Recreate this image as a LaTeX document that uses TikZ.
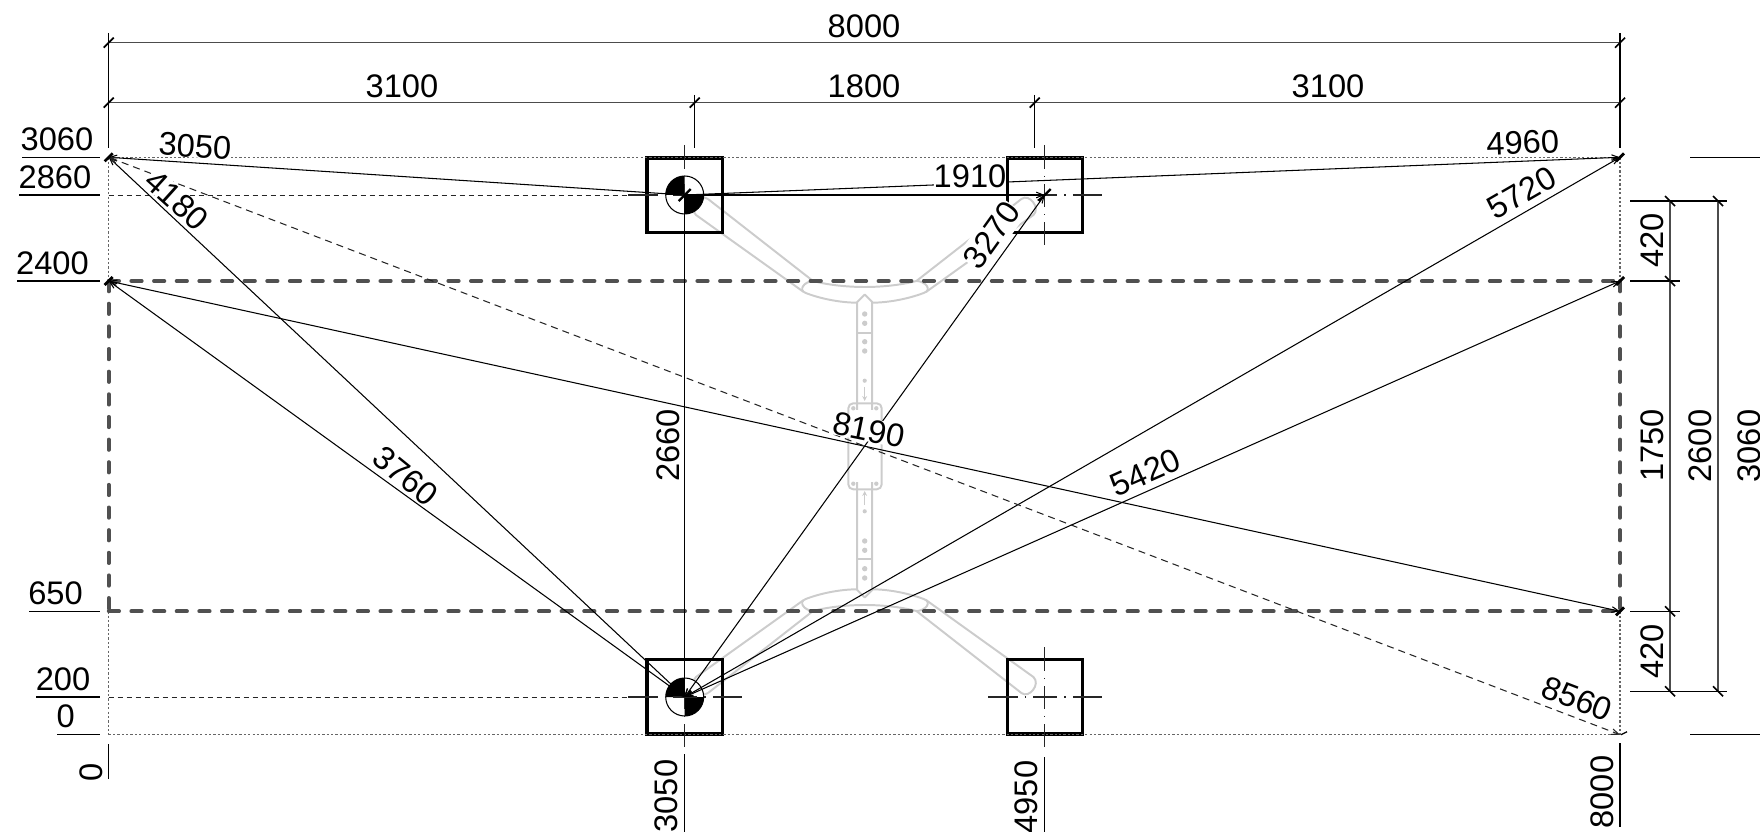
\documentclass[tikz,border=0pt]{standalone}
\usepackage{fontspec}
\setmainfont{Liberation Sans}
\usetikzlibrary{arrows.meta}
\definecolor{struct}{HTML}{CCCCCC}
\definecolor{heavy}{HTML}{505050}
\definecolor{dotg}{HTML}{666666}
\tikzset{
  every node/.style={font=\fontsize{23.2}{26}\selectfont,inner sep=0pt,text=black},
  lab/.style={fill=white},
  thinline/.style={draw=black,line width=0.75pt},
  conn/.style={thinline,{Straight Barb[length=5pt,width=4pt]}-{Straight Barb[length=5pt,width=4pt]}},
  connto/.style={thinline,-{Straight Barb[length=5pt,width=4pt]}},
  dimline/.style={draw=black!70,line width=0.85pt},
  extline/.style={draw=black,line width=0.75pt},
  tickmark/.style={draw=black,line width=1.2pt},
  blobmark/.style={draw=black,line width=2pt},
  structline/.style={draw=struct,line width=1.4pt},
  column/.style={draw=black,line width=2.4pt,line join=miter},
  dotline/.style={draw=dotg,line width=1pt,dash pattern=on 1.6pt off 1.5pt},
  heavydash/.style={draw=heavy,line width=2.7pt,line cap=round,dash pattern=on 7.4pt off 8.7pt},
  finedash/.style={draw=black!85,line width=0.7pt,dash pattern=on 4pt off 2.4pt},
  centreh/.style={draw=black!85,line width=0.75pt,dash pattern=on 21.3pt off 5pt on 1pt off 5pt on 17pt off 5pt on 1pt off 5pt on 21.3pt},
  centrev/.style={draw=black!85,line width=0.75pt,dash pattern=on 17pt off 5pt on 1pt off 5pt on 16pt off 5pt on 1pt off 5pt on 17pt},
}
\newcommand{\halfstruct}{%
  \draw[structline,line join=round] (708,199) -- (813,281) .. controls (830,285.5) and (850,287) .. (864.7,287)
    .. controls (880,287) and (899,285.5) .. (916.4,281) -- (1021.4,199)
    .. controls (1029,193) and (1041,208) .. (1033.4,215) -- (926,292);
  \draw[structline] (916.4,281) .. controls (925,281) and (933,290) .. (923.7,293)
    .. controls (905,300) and (885,302.7) .. (872.2,302.7);
  \draw[structline] (857.2,302.7) .. controls (844,302.7) and (824,300) .. (805.7,293)
    .. controls (797.7,290) and (804.4,281.5) .. (813,281);
  \draw[structline] (803.3,291.7) -- (696,215) .. controls (688,208) and (700,193) .. (708,199);
  \draw[structline,line join=round] (857.2,410) -- (857.2,302) -- (864.7,294.5) -- (872.2,302) -- (872.2,410);
  \draw[structline] (857.2,332.7) -- (872.2,332.7);
  \foreach \yy in {314,323.3,341.7,351} {\fill[struct] (864.7,\yy) circle[radius=2.7];}
  \fill[struct] (864.7,380.7) circle[radius=2.1];
  \draw[structline,line width=0.9pt,-{Stealth[length=3.5pt,width=3.5pt]}] (864.7,387) -- (864.7,401);
  \fill[struct] (853.3,408.3) circle[radius=2.2];
  \fill[struct] (876.3,408.3) circle[radius=2.2];
}
\begin{document}
\begin{tikzpicture}[x=0.025cm,y=-0.025cm]
\clip (0,0) rectangle (1760,832);
% reference points
\coordinate (PA) at (108.7,157.3);
\coordinate (PB) at (1620,157.3);
\coordinate (PC) at (108.7,281);
\coordinate (PD) at (1620,281);
\coordinate (PE) at (108.7,611.3);
\coordinate (PF) at (1620,611.3);
\coordinate (PG) at (108.7,734.7);
\coordinate (PH) at (1620,734.7);
\coordinate (CA) at (684.7,195);
\coordinate (CB) at (684.7,697);
\coordinate (CD) at (1044.7,195);
\coordinate (CE) at (1044.7,697);
% grey structure
\halfstruct
\begin{scope}[shift={(0,892)},yscale=-1]
\halfstruct
\end{scope}
\draw[structline,rounded corners=3.5pt] (848.3,403.3) rectangle (881.7,489.3);
% columns
\draw[column] (647,158) rectangle (722.4,232.6);
\draw[column] (1007.5,158) rectangle (1082.5,232.6);
\draw[column] (647,659.6) rectangle (722.4,734);
\draw[column] (1007.5,659.6) rectangle (1082.5,734);
% hinge symbols
\foreach \c in {CA,CB} {
  \draw[thinline,fill=white] (\c) circle[radius=19];
  \fill (\c) -- ([shift={(-19,0)}]\c) arc[start angle=180,end angle=270,radius=19] -- cycle;
  \fill (\c) -- ([shift={(19,0)}]\c) arc[start angle=0,end angle=90,radius=19] -- cycle;
}
% outlines
\draw[dotline] (PA) -- (PB);
\draw[dotline] (PG) -- (PH);
\draw[dotline] (PA) -- (PC);
\draw[dotline] (PE) -- (PG);
\draw[dotline] (PB) -- (PD);
\draw[dotline] (PF) -- (PH);
\draw[heavydash] (PC) -- (PD);
\draw[heavydash] (PE) -- (PF);
\draw[heavydash] (PC) -- (PE);
\draw[heavydash] (PD) -- (PF);
% centre lines
\coordinate (ha1) at (108.7,195); \coordinate (ha2) at (628,195);
\coordinate (hb1) at (108.7,697); \coordinate (hb2) at (628,697);
\draw[finedash] (ha1) -- (ha2);
\draw[finedash] (hb1) -- (hb2);
\coordinate (cl1) at (628,195); \coordinate (cl2) at (742,195);
\coordinate (cl3) at (628,697); \coordinate (cl4) at (742,697);
\coordinate (cl5) at (988,195); \coordinate (cl6) at (1102,195);
\coordinate (cl7) at (988,697); \coordinate (cl8) at (1102,697);
\draw[centreh] (cl1) -- (cl2);
\draw[centreh] (cl3) -- (cl4);
\draw[centreh] (cl5) -- (cl6);
\draw[centreh] (cl7) -- (cl8);
\coordinate (vl1) at (684.7,145); \coordinate (vl2) at (684.7,245);
\coordinate (vl3) at (684.7,647); \coordinate (vl4) at (684.7,747);
\coordinate (vl5) at (1044.7,145); \coordinate (vl6) at (1044.7,245);
\coordinate (vl7) at (1044.7,647); \coordinate (vl8) at (1044.7,747);
\draw[centrev] (vl1) -- (vl2);
\draw[centrev] (vl3) -- (vl4);
\draw[centrev] (vl5) -- (vl6);
\draw[centrev] (vl7) -- (vl8);
% connectors
\draw[connto] (CA) -- (PA);
\draw[connto] (CA) -- (PB);
\draw[connto] (CA) -- (CD);
\draw[conn] (CB) -- (CD);
\draw[conn] (PA) -- (CB);
\draw[conn] (PC) -- (CB);
\draw[connto] (CA) -- (CB);
\draw[conn] (CB) -- (PB);
\draw[conn] (CB) -- (PD);
\draw[conn] (PC) -- (PF);
\draw[conn,draw=black!85,dash pattern=on 5pt off 3.6pt] (PA) -- (PH);
% slash marks on the measured points
\foreach \c in {PA,PB,PC,PD,PF} {
  \draw[blobmark] ([shift={(-4,4)}]\c) -- ([shift={(4,-4)}]\c);
}
\foreach \c in {CA,CD} {
  \draw[tickmark,line width=1.6pt] ([shift={(-6,6)}]\c) -- ([shift={(6,-6)}]\c);
}
\draw[tickmark,line width=0.9pt] ([shift={(1,0)}]PH) -- ([shift={(7,-3)}]PH);
% top dimensions
\coordinate (d1a) at (108.7,42.7); \coordinate (d1b) at (1620,42.7);
\coordinate (d2a) at (108.7,102.7); \coordinate (d2b) at (694.7,102.7);
\coordinate (d2c) at (1034.7,102.7); \coordinate (d2d) at (1620,102.7);
\draw[dimline] (d1a) -- (d1b);
\draw[dimline] (d2a) -- (d2d);
\coordinate (e1) at (108.7,33); \coordinate (e1b) at (108.7,148);
\coordinate (e2) at (694.7,95); \coordinate (e2b) at (694.7,148);
\coordinate (e3) at (1034.7,95); \coordinate (e3b) at (1034.7,148);
\coordinate (e4) at (1620,33); \coordinate (e4b) at (1620,148);
\draw[extline] (e1) -- (e1b);
\draw[extline] (e2) -- (e2b);
\draw[extline] (e3) -- (e3b);
\draw[extline] (e4) -- (e4b);
\foreach \c in {d1a,d1b,d2a,d2b,d2c,d2d} {
  \draw[tickmark] ([shift={(-5,5)}]\c) -- ([shift={(5,-5)}]\c);
}
% left level lines
\coordinate (la) at (22,157.3); \coordinate (la2) at (100,157.3);
\coordinate (lb) at (19,195); \coordinate (lb2) at (100,195);
\coordinate (lc) at (17,281); \coordinate (lc2) at (100,281);
\coordinate (ld) at (29,611.3); \coordinate (ld2) at (100,611.3);
\coordinate (le) at (36,697); \coordinate (le2) at (100,697);
\coordinate (lf) at (57,734.7); \coordinate (lf2) at (100,734.7);
\draw[extline] (la) -- (la2);
\draw[extline] (lb) -- (lb2);
\draw[extline] (lc) -- (lc2);
\draw[extline] (ld) -- (ld2);
\draw[extline] (le) -- (le2);
\draw[extline] (lf) -- (lf2);
% right level lines and dimensions
\coordinate (ra) at (1690,157.3); \coordinate (ra2) at (1760,157.3);
\coordinate (rb) at (1690,734.7); \coordinate (rb2) at (1760,734.7);
\coordinate (rc) at (1630,201); \coordinate (rc2) at (1727,201);
\coordinate (rd) at (1630,281); \coordinate (rd2) at (1680,281);
\coordinate (re) at (1630,611.3); \coordinate (re2) at (1680,611.3);
\coordinate (rf) at (1630,691.3); \coordinate (rf2) at (1727,691.3);
\draw[extline] (ra) -- (ra2);
\draw[extline] (rb) -- (rb2);
\draw[extline] (rc) -- (rc2);
\draw[extline] (rd) -- (rd2);
\draw[extline] (re) -- (re2);
\draw[extline] (rf) -- (rf2);
\coordinate (v1a) at (1670,201); \coordinate (v1b) at (1670,281);
\coordinate (v1c) at (1670,611.3); \coordinate (v1d) at (1670,691.3);
\coordinate (v2a) at (1718,201); \coordinate (v2b) at (1718,691.3);
\draw[dimline] (v1a) -- (v1d);
\draw[dimline] (v2a) -- (v2b);
\foreach \c in {v1a,v1b,v1c,v1d,v2a,v2b} {
  \draw[tickmark] ([shift={(-5,-5)}]\c) -- ([shift={(5,5)}]\c);
}
% bottom ordinate lines
\coordinate (b1) at (108.7,744); \coordinate (b1b) at (108.7,779);
\coordinate (b2) at (684.7,754); \coordinate (b2b) at (684.7,832);
\coordinate (b3) at (1044.7,757); \coordinate (b3b) at (1044.7,832);
\coordinate (b4) at (1620,743); \coordinate (b4b) at (1620,827);
\draw[extline] (b1) -- (b1b);
\draw[extline] (b2) -- (b2b);
\draw[extline] (b3) -- (b3b);
\draw[extline] (b4) -- (b4b);
% labels
\node[lab] (t8000) at (864,26) {8000};
\node[lab] (t3100a) at (402,86) {3100};
\node[lab] (t1800) at (864,86) {1800};
\node[lab] (t3100b) at (1328,86) {3100};
\node (t3060) at (57,139) {3060};
\node (t2860) at (55,177.5) {2860};
\node (t2400) at (52.5,263.7) {2400};
\node (t650) at (55.5,593) {650};
\node (t200) at (63,679) {200};
\node (t0) at (65.7,716.7) {0};
\node[lab,rotate=-3.7] (t3050) at (195,146) {3050};
\node[lab,rotate=2.3] (t4960) at (1522.7,142.7) {4960};
\node[lab] (t1910) at (970,176) {1910};
\node[lab,rotate=54.4,inner ysep=3.2pt] (t3270) at (991.7,235) {3270};
\node[lab,rotate=-42] (t4180) at (176.7,200) {4180};
\node[lab,rotate=-39] (t3760) at (405.5,476) {3760};
\node[lab,rotate=90] (t2660) at (667.8,445.6) {2660};
\node[lab,rotate=30] (t5720) at (1521.7,193) {5720};
\node[lab,rotate=24] (t5420) at (1145.5,472.5) {5420};
\node[lab,rotate=-11.5] (t8190) at (869,430) {8190};
\node[lab,rotate=-20.9] (t8560) at (1577,698.7) {8560};
\node[rotate=90] (t420a) at (1652,240.7) {420};
\node[rotate=90] (t420b) at (1652,651.7) {420};
\node[rotate=90] (t1750) at (1652,445.6) {1750};
\node[rotate=90] (t2600) at (1700,446) {2600};
\node[rotate=90] (t3060b) at (1749,446) {3060};
\node[rotate=90] (t00) at (90.8,772) {0};
\node[rotate=90] (t3050b) at (666.7,796) {3050};
\node[rotate=90] (t4950) at (1026.7,797) {4950};
\node[rotate=90] (t8000b) at (1602.7,792) {8000};
\end{tikzpicture}
\end{document}
